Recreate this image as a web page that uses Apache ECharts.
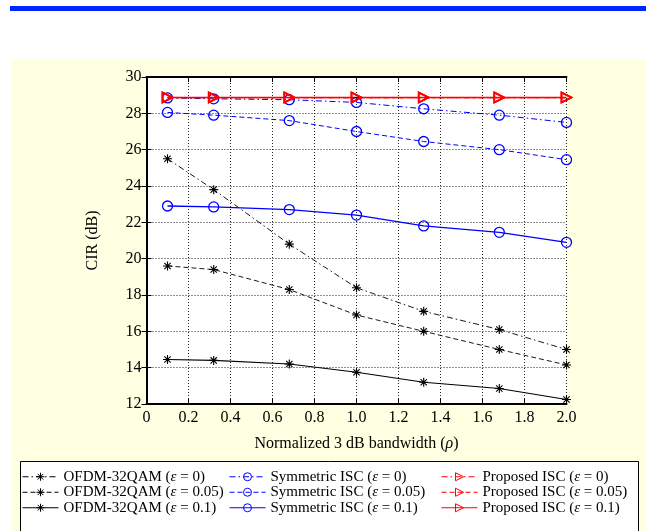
<!DOCTYPE html>
<html>
<head>
<meta charset="utf-8">
<script src="https://cdn.jsdelivr.net/npm/echarts@6/dist/echarts.min.js"></script>
<style>
html,body{margin:0;padding:0;background:#fff;}
#c{width:646px;height:531px;}
</style>
</head>
<body>
<div id="c"></div>
<script>
// ---- data ----
const rho = [0.1, 0.32, 0.68, 1.0, 1.32, 1.68, 2.0];
const ofdmE0   = [25.5, 23.8, 20.8, 18.4, 17.1, 16.1, 15.0];
const ofdmE005 = [19.6, 19.4, 18.3, 16.9, 16.0, 15.0, 14.15];
const ofdmE01  = [14.45, 14.4, 14.2, 13.75, 13.2, 12.85, 12.25];
const symE0    = [28.85, 28.8, 28.75, 28.6, 28.25, 27.9, 27.5];
const symE005  = [28.05, 27.9, 27.6, 27.0, 26.45, 26.0, 25.45];
const symE01   = [22.9, 22.85, 22.7, 22.4, 21.8, 21.45, 20.9];
const propE0   = [28.87, 28.87, 28.87, 28.87, 28.87, 28.87, 28.87];
const propE005 = [28.87, 28.87, 28.87, 28.87, 28.87, 28.87, 28.87];
const propE01  = [28.87, 28.87, 28.87, 28.87, 28.87, 28.87, 28.87];
const yTicks = [12, 14, 16, 18, 20, 22, 24, 26, 28, 30];
const xTicks = [0, 0.2, 0.4, 0.6, 0.8, 1.0, 1.2, 1.4, 1.6, 1.8, 2.0];
const names = [
  'OFDM-32QAM (ε = 0)', 'OFDM-32QAM (ε = 0.05)', 'OFDM-32QAM (ε = 0.1)',
  'Symmetric ISC (ε = 0)', 'Symmetric ISC (ε = 0.05)', 'Symmetric ISC (ε = 0.1)',
  'Proposed ISC (ε = 0)', 'Proposed ISC (ε = 0.05)', 'Proposed ISC (ε = 0.1)'
];

const FONT = '"Liberation Serif","Times New Roman",serif';
const DASHDOT = [6, 3, 1.5, 3];
const DASHED = [5, 3];
const ASTER = 'path://M0,-5L0,5M-5,0L5,0M-3.5,-3.5L3.5,3.5M-3.5,3.5L3.5,-3.5';
const TRI = 'path://M0,0L10,5L0,10Z';

function pts(arr) { return rho.map((x, i) => [x, arr[i]]); }

function mk(name, arr, color, type, symbol, size, lw, bw) {
  return {
    name: name, type: 'line', data: pts(arr),
    symbol: symbol, symbolSize: size,
    lineStyle: { color: color, width: lw, type: type },
    itemStyle: { color: 'rgba(0,0,0,0)', borderColor: color, borderWidth: bw },
    emphasis: { disabled: true },
    xAxisIndex: 0, yAxisIndex: 0
  };
}

const series = [
  mk(names[0], ofdmE0, '#000', DASHDOT, ASTER, 9, 0.9, 1.1),
  mk(names[1], ofdmE005, '#000', DASHED, ASTER, 9, 0.9, 1.1),
  mk(names[2], ofdmE01, '#000', 'solid', ASTER, 9, 1.1, 1.1),
  mk(names[3], symE0, '#0000ff', DASHDOT, 'circle', 10, 1.0, 1.3),
  mk(names[4], symE005, '#0000ff', DASHED, 'circle', 10, 1.0, 1.3),
  mk(names[5], symE01, '#0000ff', 'solid', 'circle', 10, 1.3, 1.3),
  mk(names[6], propE0, '#ff0000', DASHDOT, TRI, 10, 1.2, 1.6),
  mk(names[7], propE005, '#ff0000', DASHED, TRI, 10, 1.2, 1.6),
  mk(names[8], propE01, '#ff0000', 'solid', TRI, 10, 1.6, 1.6)
];

function legendCfg(left, data) {
  return {
    data: data, left: left, top: 464, orient: 'vertical',
    itemWidth: 36, itemHeight: 10, itemGap: 0,
    selectedMode: false,
    lineStyle: { width: 1 },
    itemStyle: { color: 'rgba(0,0,0,0)', borderWidth: 1 },
    formatter: n => n.replace('ε', '{i|ε}'),
    textStyle: {
      fontFamily: FONT, fontSize: 15, color: '#000', lineHeight: 15.5,
      rich: { i: { fontFamily: FONT, fontSize: 15, fontStyle: 'italic', color: '#000', lineHeight: 15.5 } }
    }
  };
}

const chart = echarts.init(document.getElementById('c'), null, { renderer: 'canvas' });
const axisCommon = {
  axisLine: { show: true, lineStyle: { color: '#000', width: 2 } },
  axisTick: { show: true, inside: true, length: 5, lineStyle: { color: '#000', width: 1 } }
};
chart.setOption({
  animation: false,
  backgroundColor: '#fff',
  graphic: [
    { type: 'rect', z: -10, shape: { x: 10, y: 6, width: 636, height: 5 }, style: { fill: '#0026ff' } },
    { type: 'rect', z: -10, shape: { x: 12, y: 59, width: 634, height: 472 }, style: { fill: '#ffffe1' } },
    { type: 'rect', z: 1, shape: { x: 20.5, y: 461.5, width: 618, height: 80 }, style: { fill: '#fff', stroke: '#000', lineWidth: 1 } }
  ],
  grid: { left: 146.5, right: 79.5, top: 77, bottom: 127, show: true, backgroundColor: '#fff', borderWidth: 0 },
  xAxis: [
    Object.assign({
      type: 'value', min: 0, max: 2, interval: 0.2, position: 'bottom',
      name: 'Normalized 3 dB bandwidth ({i|ρ})', nameLocation: 'middle', nameGap: 32,
      nameTextStyle: { fontFamily: FONT, fontSize: 16, color: '#000',
        rich: { i: { fontFamily: FONT, fontSize: 16, fontStyle: 'italic', color: '#000' } } },
      axisLabel: { fontFamily: FONT, fontSize: 16, color: '#000', margin: 6,
        formatter: v => (Math.abs(v) < 1e-9 ? '0' : v.toFixed(1)) },
      splitLine: { show: true, lineStyle: { color: '#222', width: 1, type: [1, 2] } }
    }, axisCommon),
    Object.assign({
      type: 'value', min: 0, max: 2, interval: 0.2, position: 'top',
      axisLabel: { show: false }, splitLine: { show: false }
    }, axisCommon)
  ],
  yAxis: [
    Object.assign({
      type: 'value', min: 12, max: 30, interval: 2, position: 'left',
      name: 'CIR (dB)', nameLocation: 'middle', nameGap: 46,
      nameTextStyle: { fontFamily: FONT, fontSize: 16, color: '#000' },
      axisLabel: { fontFamily: FONT, fontSize: 16, color: '#000', margin: 5 },
      splitLine: { show: true, lineStyle: { color: '#222', width: 1, type: [1, 2] } }
    }, axisCommon),
    Object.assign({
      type: 'value', min: 12, max: 30, interval: 2, position: 'right',
      axisLabel: { show: false }, splitLine: { show: false }
    }, axisCommon)
  ],
  legend: [
    legendCfg(17, names.slice(0, 3)),
    legendCfg(224, names.slice(3, 6)),
    legendCfg(436, names.slice(6, 9))
  ],
  series: series
});
</script>
</body>
</html>
